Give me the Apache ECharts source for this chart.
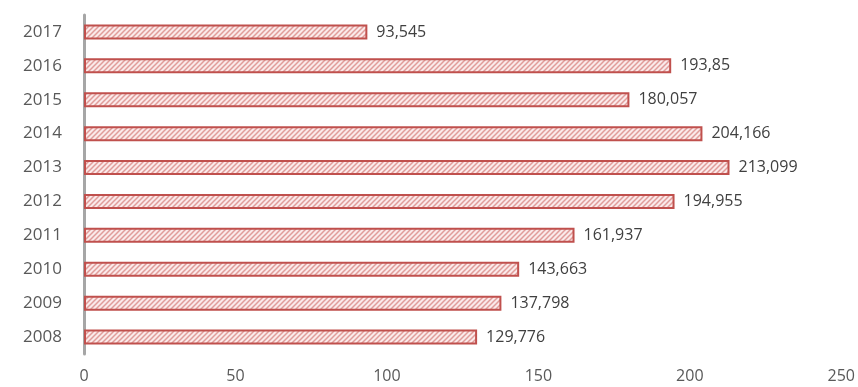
<!DOCTYPE html>
<html>
<head>
<meta charset="utf-8">
<script src="https://cdn.jsdelivr.net/npm/echarts@6/dist/echarts.min.js"></script>
<style>html,body{margin:0;padding:0;background:#fff}#c{width:858px;height:387px}</style>
</head>
<body>
<div id="c"></div>
<script>
var categories = ['2008','2009','2010','2011','2012','2013','2014','2015','2016','2017'];
var values = [129.776, 137.798, 143.663, 161.937, 194.955, 213.099, 204.166, 180.057, 193.85, 93.545];
var xTicks = [0, 50, 100, 150, 200, 250];

function makePattern() {
  var c = document.createElement('canvas');
  c.width = 5; c.height = 5;
  var g = c.getContext('2d');
  g.fillStyle = '#FAEAEA';
  g.fillRect(0, 0, 5, 5);
  g.strokeStyle = '#E09C9A';
  g.lineWidth = 1.5;
  g.beginPath();
  g.moveTo(0, 5); g.lineTo(5, 0);
  g.moveTo(-2.5, 2.5); g.lineTo(2.5, -2.5);
  g.moveTo(2.5, 7.5); g.lineTo(7.5, 2.5);
  g.stroke();
  return c;
}

var chart = echarts.init(document.getElementById('c'));
chart.setOption({
  animation: false,
  grid: { left: 84, right: 16, top: 15, bottom: 33 },
  xAxis: {
    type: 'value', min: xTicks[0], max: xTicks[xTicks.length - 1], interval: 50,
    axisLine: { show: false }, axisTick: { show: false }, splitLine: { show: false },
    axisLabel: { color: '#595959', fontSize: 16, fontFamily: 'Open Sans', margin: 14 }
  },
  yAxis: {
    type: 'category', data: categories,
    axisLine: { show: true, lineStyle: { color: '#A6A6A6', width: 3 } },
    axisTick: { show: false },
    axisLabel: { color: '#595959', fontSize: 17, fontFamily: 'Open Sans', margin: 22 }
  },
  series: [{
    type: 'bar', data: values, barWidth: 15,
    itemStyle: {
      color: { image: makePattern(), repeat: 'repeat' },
      borderColor: '#C0504D', borderWidth: 2
    },
    label: {
      show: true, position: 'right', distance: 9,
      color: '#404040', fontSize: 16, fontFamily: 'Open Sans',
      formatter: function (p) { return String(p.value).replace('.', ','); }
    }
  }]
});
</script>
</body>
</html>
